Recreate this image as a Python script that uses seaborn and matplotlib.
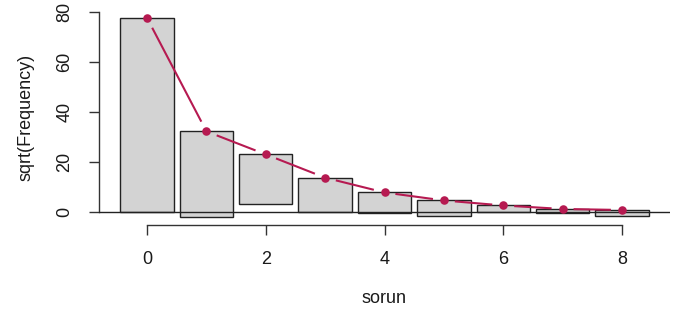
import numpy as np
import matplotlib
matplotlib.use("Agg")
import matplotlib.pyplot as plt
import seaborn as sns

# hanging rootogram values (sqrt scale)
sorun = [0, 1, 2, 3, 4, 5, 6, 7, 8]
sqrt_expected = [77.6, 32.3, 23.1, 13.8, 7.9, 4.7, 2.7, 1.3, 0.9]
sqrt_observed = [77.6, 34.2, 19.9, 13.6, 8.4, 6.2, 2.6, 1.8, 2.4]
x_ticks = [0, 2, 4, 6, 8]
y_ticks = [0, 20, 40, 60, 80]

sns.set_style("white")
plt.rcParams['font.family'] = ['Liberation Sans', 'DejaVu Sans']

W, H = 691, 322
fig = plt.figure(figsize=(W / 100, H / 100), dpi=100)
ax = fig.add_axes([99 / W, (H - 225) / H, (670 - 99) / W, (225 - 10) / H])

x = np.array(sorun)
exp_ = np.array(sqrt_expected)
obs = np.array(sqrt_observed)
ax.bar(x, obs, width=0.9, bottom=exp_ - obs, color="#d3d3d3",
       edgecolor="#222222", linewidth=1.0, zorder=2)
ax.axhline(0, color="#222222", lw=1.0, zorder=3)

ax.set_xlim(-0.81, 8.81)
ax.set_ylim(-5.1, 80.8)

# line with gaps around the points (R type = "b")
red = "#B61A51"
fig.canvas.draw()
disp = ax.transData.transform(np.column_stack([x, exp_]))
gap = 11.0
for i in range(len(x) - 1):
    p0, p1 = disp[i], disp[i + 1]
    d = p1 - p0
    L = np.hypot(*d)
    if L <= 2 * gap:
        continue
    u = d / L
    seg = ax.transData.inverted().transform(np.array([p0 + u * gap, p1 - u * gap]))
    ax.plot(seg[:, 0], seg[:, 1], color=red, lw=1.5, zorder=4, solid_capstyle="butt")
sns.scatterplot(x=x, y=exp_, ax=ax, color=red, s=38, edgecolor=red, linewidth=0, zorder=5)

for s in ["top", "right"]:
    ax.spines[s].set_visible(False)
ax.spines["left"].set_bounds(0, 80)
ax.spines["bottom"].set_bounds(0, 8)
for s in ["left", "bottom"]:
    ax.spines[s].set_color("#333333")
    ax.spines[s].set_linewidth(1.0)

ax.set_xticks(x_ticks)
ax.set_yticks(y_ticks)
ax.tick_params(axis="both", bottom=True, left=True, direction="out", length=7.5,
               width=1.0, color="#333333", labelsize=13, labelcolor="#1a1a1a")
ax.tick_params(axis="x", pad=11)
ax.tick_params(axis="y", pad=11)
for lab in ax.get_yticklabels():
    lab.set_rotation(90)
    lab.set_va("center")
ax.set_xlabel("sorun", fontsize=13, color="#1a1a1a", labelpad=16)
ax.set_ylabel("sqrt(Frequency)", fontsize=13, color="#1a1a1a", labelpad=16)

fig.savefig("out.png", dpi=100)
